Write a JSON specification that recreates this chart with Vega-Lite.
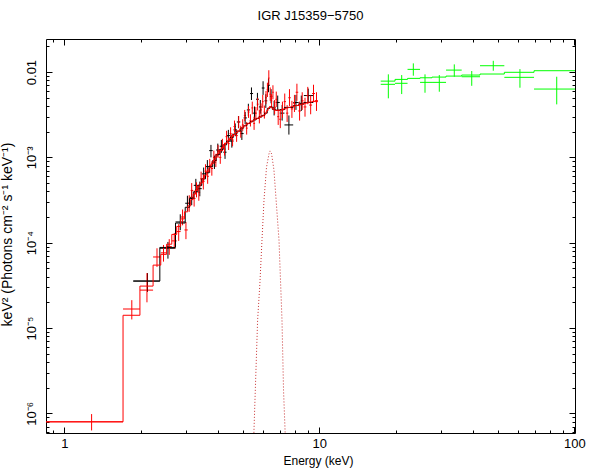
{
  "$schema": "https://vega.github.io/schema/vega-lite/v6.json",
  "width": 529,
  "height": 394,
  "autosize": "none",
  "padding": {"left": 46, "top": 39, "right": 23, "bottom": 35},
  "background": "white",
  "title": {"text": "IGR J15359−5750", "fontSize": 13, "fontWeight": "normal", "font": "Liberation Sans", "anchor": "middle", "frame": "group", "baseline": "alphabetic", "offset": 6, "color": "black"},
  "config": {
    "view": {"stroke": "black", "strokeWidth": 1},
    "font": "Liberation Sans",
    "axis": {"domain": false, "grid": false, "tickColor": "black", "labelColor": "black", "titleColor": "black", "labelFont": "Liberation Sans", "titleFont": "Liberation Sans", "labelFontSize": 13, "titleFontSize": 12, "titleFontWeight": "normal", "labelOverlap": false, "labelFlush": false, "tickWidth": 1}
  },
  "datasets": {
    "pts": [
      {"g":"1","e":2.12,"elo":1.865,"ehi":2.37,"v":3.55e-5,"lo":2.65e-5,"hi":4.4e-5},
      {"g":"1","e":2.55,"elo":2.37,"ehi":2.73,"v":8.6e-5,"lo":6.5e-5,"hi":1.02e-4},
      {"g":"1","e":2.85,"elo":2.73,"ehi":2.98,"v":1.75e-4,"lo":1.4e-4,"hi":2.15e-4},
      {"g":"1","e":3.04,"elo":2.98,"ehi":3.1,"v":2.9e-4,"lo":2.35e-4,"hi":3.55e-4},
      {"g":"1","e":3.16,"elo":3.1,"ehi":3.22,"v":3.4e-4,"lo":2.75e-4,"hi":4.1e-4},
      {"g":"1","e":3.28,"elo":3.22,"ehi":3.34,"v":4.7e-4,"lo":3.9e-4,"hi":5.6e-4},
      {"g":"1","e":3.4,"elo":3.34,"ehi":3.46,"v":4.3e-4,"lo":3.5e-4,"hi":5.2e-4},
      {"g":"1","e":3.52,"elo":3.46,"ehi":3.58,"v":6.4e-4,"lo":5.3e-4,"hi":7.6e-4},
      {"g":"1","e":3.64,"elo":3.58,"ehi":3.7,"v":7.8e-4,"lo":6.5e-4,"hi":9.3e-4},
      {"g":"1","e":3.76,"elo":3.7,"ehi":3.82,"v":1.2e-3,"lo":1.0e-3,"hi":1.4e-3},
      {"g":"1","e":3.88,"elo":3.82,"ehi":3.94,"v":8.8e-4,"lo":7.3e-4,"hi":1.05e-3},
      {"g":"1","e":4.0,"elo":3.94,"ehi":4.07,"v":1.22e-3,"lo":1.03e-3,"hi":1.45e-3},
      {"g":"1","e":4.13,"elo":4.07,"ehi":4.2,"v":1.35e-3,"lo":1.13e-3,"hi":1.6e-3},
      {"g":"1","e":4.27,"elo":4.2,"ehi":4.33,"v":1.15e-3,"lo":9.6e-4,"hi":1.38e-3},
      {"g":"1","e":4.4,"elo":4.33,"ehi":4.47,"v":1.8e-3,"lo":1.5e-3,"hi":2.1e-3},
      {"g":"1","e":4.54,"elo":4.47,"ehi":4.61,"v":1.55e-3,"lo":1.3e-3,"hi":1.85e-3},
      {"g":"1","e":4.68,"elo":4.61,"ehi":4.75,"v":2.1e-3,"lo":1.77e-3,"hi":2.5e-3},
      {"g":"1","e":4.82,"elo":4.75,"ehi":4.9,"v":2.6e-3,"lo":2.2e-3,"hi":3.05e-3},
      {"g":"1","e":4.97,"elo":4.9,"ehi":5.05,"v":1.9e-3,"lo":1.6e-3,"hi":2.25e-3},
      {"g":"1","e":5.12,"elo":5.05,"ehi":5.2,"v":2.9e-3,"lo":2.45e-3,"hi":3.4e-3},
      {"g":"1","e":5.27,"elo":5.2,"ehi":5.35,"v":3.6e-3,"lo":3.05e-3,"hi":4.25e-3},
      {"g":"1","e":5.42,"elo":5.35,"ehi":5.5,"v":5.6e-3,"lo":4.7e-3,"hi":6.6e-3},
      {"g":"1","e":5.57,"elo":5.5,"ehi":5.65,"v":3.3e-3,"lo":2.75e-3,"hi":3.95e-3},
      {"g":"1","e":5.72,"elo":5.65,"ehi":5.8,"v":4.8e-3,"lo":4.0e-3,"hi":5.7e-3},
      {"g":"1","e":5.87,"elo":5.8,"ehi":5.95,"v":3.9e-3,"lo":3.25e-3,"hi":4.7e-3},
      {"g":"1","e":6.02,"elo":5.95,"ehi":6.1,"v":6.5e-3,"lo":5.4e-3,"hi":7.8e-3},
      {"g":"1","e":6.17,"elo":6.1,"ehi":6.25,"v":4.6e-3,"lo":3.8e-3,"hi":5.5e-3},
      {"g":"1","e":6.32,"elo":6.25,"ehi":6.4,"v":7.0e-3,"lo":5.8e-3,"hi":8.4e-3},
      {"g":"1","e":6.47,"elo":6.4,"ehi":6.55,"v":5.2e-3,"lo":4.3e-3,"hi":6.3e-3},
      {"g":"1","e":6.65,"elo":6.55,"ehi":6.75,"v":3.8e-3,"lo":3.1e-3,"hi":4.6e-3},
      {"g":"1","e":6.87,"elo":6.75,"ehi":7.0,"v":4.4e-3,"lo":3.6e-3,"hi":5.3e-3},
      {"g":"1","e":7.15,"elo":7.0,"ehi":7.3,"v":3.3e-3,"lo":2.7e-3,"hi":4.1e-3},
      {"g":"1","e":7.6,"elo":7.3,"ehi":7.9,"v":2.4e-3,"lo":1.85e-3,"hi":3.1e-3},
      {"g":"1","e":8.1,"elo":7.9,"ehi":8.3,"v":4.4e-3,"lo":3.6e-3,"hi":5.4e-3},
      {"g":"1","e":8.5,"elo":8.3,"ehi":8.7,"v":4.3e-3,"lo":3.5e-3,"hi":5.3e-3},
      {"g":"1","e":9.05,"elo":8.7,"ehi":9.45,"v":5.3e-3,"lo":4.4e-3,"hi":6.4e-3},
      {"g":"2","e":1.28,"elo":0.8,"ehi":1.7,"v":7.95e-7,"lo":6.3e-7,"hi":9.8e-7},
      {"g":"2","e":1.84,"elo":1.7,"ehi":1.98,"v":1.67e-5,"lo":1.26e-5,"hi":2.12e-5},
      {"g":"2","e":2.11,"elo":1.98,"ehi":2.23,"v":2.78e-5,"lo":2.0e-5,"hi":4.4e-5},
      {"g":"2","e":2.31,"elo":2.23,"ehi":2.39,"v":6.8e-5,"lo":5.2e-5,"hi":8.6e-5},
      {"g":"2","e":2.45,"elo":2.39,"ehi":2.52,"v":7.6e-5,"lo":6.0e-5,"hi":9.4e-5},
      {"g":"2","e":2.58,"elo":2.52,"ehi":2.64,"v":9.0e-5,"lo":7.2e-5,"hi":1.1e-4},
      {"g":"2","e":2.7,"elo":2.64,"ehi":2.76,"v":1.05e-4,"lo":8.5e-5,"hi":1.3e-4},
      {"g":"2","e":2.81,"elo":2.76,"ehi":2.86,"v":1.35e-4,"lo":1.05e-4,"hi":1.65e-4},
      {"g":"2","e":2.91,"elo":2.86,"ehi":2.96,"v":2.0e-4,"lo":1.6e-4,"hi":2.45e-4},
      {"g":"2","e":3.0,"elo":2.96,"ehi":3.05,"v":1.41e-4,"lo":1.1e-4,"hi":1.75e-4},
      {"g":"2","e":3.09,"elo":3.05,"ehi":3.13,"v":2.9e-4,"lo":2.3e-4,"hi":3.6e-4},
      {"g":"2","e":3.16,"elo":3.13,"ehi":3.2,"v":4.1e-4,"lo":3.3e-4,"hi":5.0e-4},
      {"g":"2","e":3.23,"elo":3.2,"ehi":3.27,"v":3.3e-4,"lo":2.65e-4,"hi":4.1e-4},
      {"g":"2","e":3.3,"elo":3.27,"ehi":3.34,"v":4.2e-4,"lo":3.4e-4,"hi":5.1e-4},
      {"g":"2","e":3.37,"elo":3.34,"ehi":3.41,"v":3.9e-4,"lo":3.1e-4,"hi":4.8e-4},
      {"g":"2","e":3.44,"elo":3.41,"ehi":3.48,"v":5.6e-4,"lo":4.6e-4,"hi":6.8e-4},
      {"g":"2","e":3.51,"elo":3.48,"ehi":3.55,"v":5.2e-4,"lo":4.2e-4,"hi":6.3e-4},
      {"g":"2","e":3.58,"elo":3.55,"ehi":3.62,"v":6.9e-4,"lo":5.7e-4,"hi":8.3e-4},
      {"g":"2","e":3.65,"elo":3.62,"ehi":3.69,"v":6.0e-4,"lo":4.9e-4,"hi":7.3e-4},
      {"g":"2","e":3.72,"elo":3.69,"ehi":3.76,"v":8.0e-4,"lo":6.6e-4,"hi":9.6e-4},
      {"g":"2","e":3.79,"elo":3.76,"ehi":3.83,"v":7.4e-4,"lo":6.1e-4,"hi":9.0e-4},
      {"g":"2","e":3.86,"elo":3.83,"ehi":3.9,"v":1.0e-3,"lo":8.4e-4,"hi":1.2e-3},
      {"g":"2","e":3.93,"elo":3.9,"ehi":3.97,"v":9.2e-4,"lo":7.7e-4,"hi":1.1e-3},
      {"g":"2","e":4.01,"elo":3.97,"ehi":4.05,"v":1.18e-3,"lo":9.9e-4,"hi":1.4e-3},
      {"g":"2","e":4.09,"elo":4.05,"ehi":4.13,"v":1.0e-3,"lo":8.4e-4,"hi":1.2e-3},
      {"g":"2","e":4.17,"elo":4.13,"ehi":4.21,"v":1.4e-3,"lo":1.18e-3,"hi":1.65e-3},
      {"g":"2","e":4.25,"elo":4.21,"ehi":4.29,"v":1.25e-3,"lo":1.05e-3,"hi":1.48e-3},
      {"g":"2","e":4.33,"elo":4.29,"ehi":4.37,"v":1.75e-3,"lo":1.48e-3,"hi":2.05e-3},
      {"g":"2","e":4.41,"elo":4.37,"ehi":4.45,"v":1.45e-3,"lo":1.22e-3,"hi":1.7e-3},
      {"g":"2","e":4.49,"elo":4.45,"ehi":4.53,"v":1.9e-3,"lo":1.6e-3,"hi":2.25e-3},
      {"g":"2","e":4.57,"elo":4.53,"ehi":4.61,"v":1.6e-3,"lo":1.35e-3,"hi":1.9e-3},
      {"g":"2","e":4.65,"elo":4.61,"ehi":4.7,"v":2.3e-3,"lo":1.95e-3,"hi":2.7e-3},
      {"g":"2","e":4.74,"elo":4.7,"ehi":4.79,"v":1.8e-3,"lo":1.52e-3,"hi":2.12e-3},
      {"g":"2","e":4.83,"elo":4.79,"ehi":4.88,"v":2.6e-3,"lo":2.2e-3,"hi":3.05e-3},
      {"g":"2","e":4.92,"elo":4.88,"ehi":4.97,"v":2.0e-3,"lo":1.7e-3,"hi":2.35e-3},
      {"g":"2","e":5.01,"elo":4.97,"ehi":5.06,"v":2.4e-3,"lo":2.05e-3,"hi":2.8e-3},
      {"g":"2","e":5.1,"elo":5.06,"ehi":5.15,"v":3.1e-3,"lo":2.65e-3,"hi":3.6e-3},
      {"g":"2","e":5.19,"elo":5.15,"ehi":5.24,"v":2.2e-3,"lo":1.85e-3,"hi":2.6e-3},
      {"g":"2","e":5.28,"elo":5.24,"ehi":5.33,"v":3.4e-3,"lo":2.9e-3,"hi":4.0e-3},
      {"g":"2","e":5.37,"elo":5.33,"ehi":5.42,"v":2.7e-3,"lo":2.3e-3,"hi":3.2e-3},
      {"g":"2","e":5.46,"elo":5.42,"ehi":5.51,"v":3.8e-3,"lo":3.2e-3,"hi":4.5e-3},
      {"g":"2","e":5.55,"elo":5.51,"ehi":5.6,"v":2.5e-3,"lo":2.1e-3,"hi":3.0e-3},
      {"g":"2","e":5.64,"elo":5.6,"ehi":5.69,"v":3.3e-3,"lo":2.8e-3,"hi":3.9e-3},
      {"g":"2","e":5.73,"elo":5.69,"ehi":5.78,"v":4.2e-3,"lo":3.55e-3,"hi":5.0e-3},
      {"g":"2","e":5.82,"elo":5.78,"ehi":5.87,"v":3.0e-3,"lo":2.5e-3,"hi":3.6e-3},
      {"g":"2","e":5.91,"elo":5.87,"ehi":5.96,"v":3.6e-3,"lo":3.0e-3,"hi":4.3e-3},
      {"g":"2","e":6.0,"elo":5.96,"ehi":6.05,"v":4.5e-3,"lo":3.8e-3,"hi":5.4e-3},
      {"g":"2","e":6.09,"elo":6.05,"ehi":6.14,"v":3.4e-3,"lo":2.85e-3,"hi":4.05e-3},
      {"g":"2","e":6.18,"elo":6.14,"ehi":6.22,"v":5.0e-3,"lo":4.2e-3,"hi":6.0e-3},
      {"g":"2","e":6.26,"elo":6.22,"ehi":6.3,"v":6.2e-3,"lo":5.1e-3,"hi":7.5e-3},
      {"g":"2","e":6.34,"elo":6.3,"ehi":6.38,"v":8.5e-3,"lo":7.0e-3,"hi":1.05e-2},
      {"g":"2","e":6.42,"elo":6.38,"ehi":6.46,"v":5.5e-3,"lo":4.6e-3,"hi":6.6e-3},
      {"g":"2","e":6.5,"elo":6.46,"ehi":6.54,"v":4.6e-3,"lo":3.8e-3,"hi":5.5e-3},
      {"g":"2","e":6.58,"elo":6.54,"ehi":6.63,"v":5.8e-3,"lo":4.8e-3,"hi":7.0e-3},
      {"g":"2","e":6.68,"elo":6.63,"ehi":6.73,"v":3.9e-3,"lo":3.2e-3,"hi":4.7e-3},
      {"g":"2","e":6.78,"elo":6.73,"ehi":6.84,"v":4.8e-3,"lo":3.9e-3,"hi":5.9e-3},
      {"g":"2","e":6.9,"elo":6.84,"ehi":6.96,"v":3.0e-3,"lo":2.4e-3,"hi":3.7e-3},
      {"g":"2","e":7.03,"elo":6.96,"ehi":7.1,"v":2.8e-3,"lo":2.2e-3,"hi":3.5e-3},
      {"g":"2","e":7.17,"elo":7.1,"ehi":7.25,"v":3.6e-3,"lo":2.9e-3,"hi":4.5e-3},
      {"g":"2","e":7.32,"elo":7.25,"ehi":7.4,"v":4.5e-3,"lo":3.6e-3,"hi":5.6e-3},
      {"g":"2","e":7.48,"elo":7.4,"ehi":7.56,"v":3.3e-3,"lo":2.6e-3,"hi":4.1e-3},
      {"g":"2","e":7.64,"elo":7.56,"ehi":7.73,"v":5.0e-3,"lo":4.0e-3,"hi":6.3e-3},
      {"g":"2","e":7.81,"elo":7.73,"ehi":7.9,"v":3.7e-3,"lo":2.9e-3,"hi":4.6e-3},
      {"g":"2","e":7.99,"elo":7.9,"ehi":8.08,"v":4.3e-3,"lo":3.4e-3,"hi":5.4e-3},
      {"g":"2","e":8.17,"elo":8.08,"ehi":8.27,"v":5.8e-3,"lo":4.6e-3,"hi":7.3e-3},
      {"g":"2","e":8.37,"elo":8.27,"ehi":8.47,"v":3.5e-3,"lo":2.7e-3,"hi":4.5e-3},
      {"g":"2","e":8.57,"elo":8.47,"ehi":8.68,"v":4.6e-3,"lo":3.6e-3,"hi":5.8e-3},
      {"g":"2","e":8.79,"elo":8.68,"ehi":8.9,"v":3.9e-3,"lo":3.0e-3,"hi":5.0e-3},
      {"g":"2","e":9.01,"elo":8.9,"ehi":9.13,"v":5.3e-3,"lo":4.2e-3,"hi":6.7e-3},
      {"g":"2","e":9.25,"elo":9.13,"ehi":9.37,"v":4.1e-3,"lo":3.2e-3,"hi":5.3e-3},
      {"g":"2","e":9.49,"elo":9.37,"ehi":9.62,"v":5.6e-3,"lo":4.4e-3,"hi":7.1e-3},
      {"g":"2","e":9.75,"elo":9.62,"ehi":9.88,"v":4.5e-3,"lo":3.5e-3,"hi":5.8e-3},
      {"g":"3","e":18.65,"elo":17.41,"ehi":19.81,"v":7.18e-3,"lo":4.92e-3,"hi":9.4e-3},
      {"g":"3","e":21.04,"elo":19.81,"ehi":22.18,"v":7.38e-3,"lo":5.52e-3,"hi":9.22e-3},
      {"g":"3","e":23.37,"elo":22.18,"ehi":24.83,"v":1.075e-2,"lo":9.06e-3,"hi":1.264e-2},
      {"g":"3","e":25.97,"elo":24.83,"ehi":27.67,"v":7.57e-3,"lo":5.72e-3,"hi":9.4e-3},
      {"g":"3","e":29.55,"elo":27.67,"ehi":31.4,"v":7.57e-3,"lo":5.88e-3,"hi":9.22e-3},
      {"g":"3","e":33.83,"elo":31.4,"ehi":36.17,"v":1.054e-2,"lo":8.81e-3,"hi":1.23e-2},
      {"g":"3","e":39.6,"elo":36.17,"ehi":42.67,"v":8.81e-3,"lo":6.9e-3,"hi":1.028e-2},
      {"g":"3","e":48.1,"elo":42.67,"ehi":53.15,"v":1.186e-2,"lo":1.036e-2,"hi":1.355e-2},
      {"g":"3","e":61.2,"elo":53.15,"ehi":69.5,"v":8.67e-3,"lo":6.55e-3,"hi":1.083e-2},
      {"g":"3","e":85.3,"elo":69.5,"ehi":101,"v":6.32e-3,"lo":4.18e-3,"hi":8.81e-3}
    ],
    "model": [
      {"g":"1","e":1.865,"m":3.55e-5},{"g":"1","e":2.37,"m":8.8e-5},{"g":"1","e":2.73,"m":1.7e-4},{"g":"1","e":2.98,"m":2.6e-4},{"g":"1","e":3.1,"m":3.3e-4},{"g":"1","e":3.22,"m":3.95e-4},{"g":"1","e":3.34,"m":4.7e-4},{"g":"1","e":3.46,"m":5.6e-4},{"g":"1","e":3.58,"m":6.6e-4},{"g":"1","e":3.7,"m":7.8e-4},{"g":"1","e":3.82,"m":9.2e-4},{"g":"1","e":3.94,"m":1.08e-3},{"g":"1","e":4.07,"m":1.24e-3},{"g":"1","e":4.2,"m":1.4e-3},{"g":"1","e":4.33,"m":1.55e-3},{"g":"1","e":4.47,"m":1.72e-3},{"g":"1","e":4.61,"m":1.88e-3},{"g":"1","e":4.75,"m":2.03e-3},{"g":"1","e":4.9,"m":2.2e-3},{"g":"1","e":5.05,"m":2.35e-3},{"g":"1","e":5.2,"m":2.5e-3},{"g":"1","e":5.35,"m":2.62e-3},{"g":"1","e":5.5,"m":2.75e-3},{"g":"1","e":5.65,"m":2.86e-3},{"g":"1","e":5.8,"m":2.97e-3},{"g":"1","e":5.95,"m":3.1e-3},{"g":"1","e":6.1,"m":3.3e-3},{"g":"1","e":6.25,"m":3.75e-3},{"g":"1","e":6.4,"m":3.9e-3},{"g":"1","e":6.55,"m":3.65e-3},{"g":"1","e":6.75,"m":3.56e-3},{"g":"1","e":7.0,"m":3.63e-3},{"g":"1","e":7.3,"m":3.85e-3},{"g":"1","e":7.9,"m":4.05e-3},{"g":"1","e":8.3,"m":4.2e-3},{"g":"1","e":8.7,"m":4.4e-3},{"g":"1","e":9.45,"m":4.4e-3},
      {"g":"2","e":0.8,"m":7.95e-7},{"g":"2","e":1.7,"m":1.41e-5},{"g":"2","e":1.98,"m":3.1e-5},{"g":"2","e":2.23,"m":5.46e-5},{"g":"2","e":2.39,"m":7.3e-5},{"g":"2","e":2.52,"m":9.6e-5},{"g":"2","e":2.64,"m":1.25e-4},{"g":"2","e":2.76,"m":1.55e-4},{"g":"2","e":2.86,"m":1.9e-4},{"g":"2","e":2.96,"m":2.3e-4},{"g":"2","e":3.05,"m":2.7e-4},{"g":"2","e":3.13,"m":3.2e-4},{"g":"2","e":3.2,"m":3.7e-4},{"g":"2","e":3.27,"m":4.1e-4},{"g":"2","e":3.34,"m":4.6e-4},{"g":"2","e":3.41,"m":5.0e-4},{"g":"2","e":3.48,"m":5.6e-4},{"g":"2","e":3.55,"m":6.2e-4},{"g":"2","e":3.62,"m":6.8e-4},{"g":"2","e":3.69,"m":7.6e-4},{"g":"2","e":3.76,"m":8.4e-4},{"g":"2","e":3.83,"m":9.2e-4},{"g":"2","e":3.9,"m":1.0e-3},{"g":"2","e":3.97,"m":1.1e-3},{"g":"2","e":4.05,"m":1.2e-3},{"g":"2","e":4.13,"m":1.3e-3},{"g":"2","e":4.21,"m":1.4e-3},{"g":"2","e":4.29,"m":1.48e-3},{"g":"2","e":4.37,"m":1.57e-3},{"g":"2","e":4.45,"m":1.66e-3},{"g":"2","e":4.53,"m":1.76e-3},{"g":"2","e":4.61,"m":1.85e-3},{"g":"2","e":4.7,"m":1.95e-3},{"g":"2","e":4.79,"m":2.04e-3},{"g":"2","e":4.88,"m":2.15e-3},{"g":"2","e":4.97,"m":2.25e-3},{"g":"2","e":5.06,"m":2.34e-3},{"g":"2","e":5.15,"m":2.43e-3},{"g":"2","e":5.24,"m":2.5e-3},{"g":"2","e":5.33,"m":2.58e-3},{"g":"2","e":5.42,"m":2.66e-3},{"g":"2","e":5.51,"m":2.74e-3},{"g":"2","e":5.6,"m":2.8e-3},{"g":"2","e":5.69,"m":2.87e-3},{"g":"2","e":5.78,"m":2.93e-3},{"g":"2","e":5.87,"m":3.0e-3},{"g":"2","e":5.96,"m":3.06e-3},{"g":"2","e":6.05,"m":3.15e-3},{"g":"2","e":6.14,"m":3.3e-3},{"g":"2","e":6.22,"m":3.55e-3},{"g":"2","e":6.3,"m":3.8e-3},{"g":"2","e":6.38,"m":3.95e-3},{"g":"2","e":6.46,"m":3.85e-3},{"g":"2","e":6.54,"m":3.7e-3},{"g":"2","e":6.63,"m":3.6e-3},{"g":"2","e":6.73,"m":3.56e-3},{"g":"2","e":6.84,"m":3.55e-3},{"g":"2","e":6.96,"m":3.56e-3},{"g":"2","e":7.1,"m":3.64e-3},{"g":"2","e":7.25,"m":3.72e-3},{"g":"2","e":7.4,"m":3.8e-3},{"g":"2","e":7.56,"m":3.86e-3},{"g":"2","e":7.73,"m":3.93e-3},{"g":"2","e":7.9,"m":4.0e-3},{"g":"2","e":8.08,"m":4.06e-3},{"g":"2","e":8.27,"m":4.13e-3},{"g":"2","e":8.47,"m":4.2e-3},{"g":"2","e":8.68,"m":4.3e-3},{"g":"2","e":8.9,"m":4.37e-3},{"g":"2","e":9.13,"m":4.45e-3},{"g":"2","e":9.37,"m":4.53e-3},{"g":"2","e":9.62,"m":4.62e-3},{"g":"2","e":9.88,"m":4.62e-3},
      {"g":"3","e":17.41,"m":7.83e-3},{"g":"3","e":19.81,"m":8.2e-3},{"g":"3","e":22.18,"m":8.43e-3},{"g":"3","e":24.83,"m":8.57e-3},{"g":"3","e":27.67,"m":8.73e-3},{"g":"3","e":31.4,"m":8.97e-3},{"g":"3","e":36.17,"m":9.22e-3},{"g":"3","e":42.67,"m":9.48e-3},{"g":"3","e":53.15,"m":9.93e-3},{"g":"3","e":69.5,"m":1.037e-2},{"g":"3","e":101,"m":1.037e-2}
    ],
    "gauss": [
      {"e":5.3,"m":1e-7},{"e":5.54,"m":5.86e-7},{"e":5.73,"m":1.24e-5},{"e":5.85,"m":3.36e-5},{"e":5.96,"m":1.07e-4},{"e":6.07,"m":3.16e-4},{"e":6.21,"m":7.7e-4},{"e":6.35,"m":1.1e-3},{"e":6.41,"m":1.19e-3},{"e":6.5,"m":1.1e-3},{"e":6.64,"m":7.1e-4},{"e":6.95,"m":1.07e-4},{"e":7.14,"m":1.24e-5},{"e":7.24,"m":1.87e-6},{"e":7.34,"m":6.4e-7},{"e":7.5,"m":1e-7}
    ]
  },
  "layer": [
    {
      "data": {"name": "pts"},
      "mark": {"type": "rule", "strokeWidth": 1, "clip": true},
      "encoding": {
        "x": {"field": "elo", "type": "quantitative", "scale": {"type": "log", "domain": [0.848, 100.6], "nice": false, "zero": false},
          "axis": {"orient": "bottom", "values": [0.9,1,2,3,4,5,6,7,8,9,10,20,30,40,50,60,70,80,90,100],
            "labelExpr": "abs(log(datum.value)/LN10 - round(log(datum.value)/LN10)) < 0.001 ? format(datum.value, 'd') : ''",
            "tickSize": {"condition": {"test": "abs(log(datum.value)/LN10 - round(log(datum.value)/LN10)) < 0.001", "value": -6}, "value": -3},
            "labelPadding": 10, "labelBaseline": "top", "title": "Energy (keV)", "titleX": 272, "titleY": 31, "titleBaseline": "alphabetic", "titleAnchor": "middle", "titleAlign": "center"}},
        "x2": {"field": "ehi"},
        "y": {"field": "v", "type": "quantitative", "scale": {"type": "log", "domain": [5.88e-7, 0.0244], "nice": false, "zero": false},
          "axis": {"orient": "left", "values": [6e-7,7e-7,8e-7,9e-7,1e-6,2e-6,3e-6,4e-6,5e-6,6e-6,7e-6,8e-6,9e-6,1e-5,2e-5,3e-5,4e-5,5e-5,6e-5,7e-5,8e-5,9e-5,1e-4,2e-4,3e-4,4e-4,5e-4,6e-4,7e-4,8e-4,9e-4,1e-3,2e-3,3e-3,4e-3,5e-3,6e-3,7e-3,8e-3,9e-3,1e-2,2e-2],
            "labelExpr": "abs(log(datum.value)/LN10 - round(log(datum.value)/LN10)) > 0.001 ? '' : (round(log(datum.value)/LN10) == -2 ? '0.01' : '10' + ['⁻⁶','⁻⁵','⁻⁴','⁻³'][round(log(datum.value)/LN10) + 6])",
            "tickSize": {"condition": {"test": "abs(log(datum.value)/LN10 - round(log(datum.value)/LN10)) < 0.001", "value": -6}, "value": -3},
            "labelAngle": 270, "labelAlign": "center", "labelBaseline": "bottom", "labelPadding": 14,
            "title": "keV² (Photons cm⁻² s⁻¹ keV⁻¹)", "titleFontSize": 14, "titleAngle": 270, "titleX": -32, "titleY": 195, "titleAlign": "center", "titleBaseline": "bottom"}},
        "color": {"field": "g", "type": "nominal", "scale": {"domain": ["1","2","3"], "range": ["#000000","#ff0000","#00ff00"]}, "legend": null}
      }
    },
    {
      "data": {"name": "pts"},
      "mark": {"type": "rule", "strokeWidth": 1, "clip": true},
      "encoding": {
        "x": {"field": "e", "type": "quantitative", "axis": null},
        "y": {"field": "lo", "type": "quantitative", "axis": null},
        "y2": {"field": "hi"},
        "color": {"field": "g", "type": "nominal", "legend": null}
      }
    },
    {
      "data": {"name": "model"},
      "mark": {"type": "line", "interpolate": "step-after", "strokeWidth": 1, "clip": true},
      "encoding": {
        "x": {"field": "e", "type": "quantitative", "axis": null},
        "y": {"field": "m", "type": "quantitative", "axis": null},
        "color": {"field": "g", "type": "nominal", "legend": null},
        "detail": {"field": "g"}
      }
    },
    {
      "data": {"name": "gauss"},
      "mark": {"type": "line", "strokeWidth": 1, "strokeDash": [1, 2], "color": "#c83030", "clip": true},
      "encoding": {
        "x": {"field": "e", "type": "quantitative",
          "axis": {"orient": "top", "values": [0.9,1,2,3,4,5,6,7,8,9,10,20,30,40,50,60,70,80,90,100], "labels": false, "title": null,
            "tickSize": {"condition": {"test": "abs(log(datum.value)/LN10 - round(log(datum.value)/LN10)) < 0.001", "value": -6}, "value": -3}}},
        "y": {"field": "m", "type": "quantitative",
          "axis": {"orient": "right", "values": [6e-7,7e-7,8e-7,9e-7,1e-6,2e-6,3e-6,4e-6,5e-6,6e-6,7e-6,8e-6,9e-6,1e-5,2e-5,3e-5,4e-5,5e-5,6e-5,7e-5,8e-5,9e-5,1e-4,2e-4,3e-4,4e-4,5e-4,6e-4,7e-4,8e-4,9e-4,1e-3,2e-3,3e-3,4e-3,5e-3,6e-3,7e-3,8e-3,9e-3,1e-2,2e-2], "labels": false, "title": null,
            "tickSize": {"condition": {"test": "abs(log(datum.value)/LN10 - round(log(datum.value)/LN10)) < 0.001", "value": -6}, "value": -3}}}
      }
    }
  ],
  "resolve": {"axis": {"x": "independent", "y": "independent"}}
}
